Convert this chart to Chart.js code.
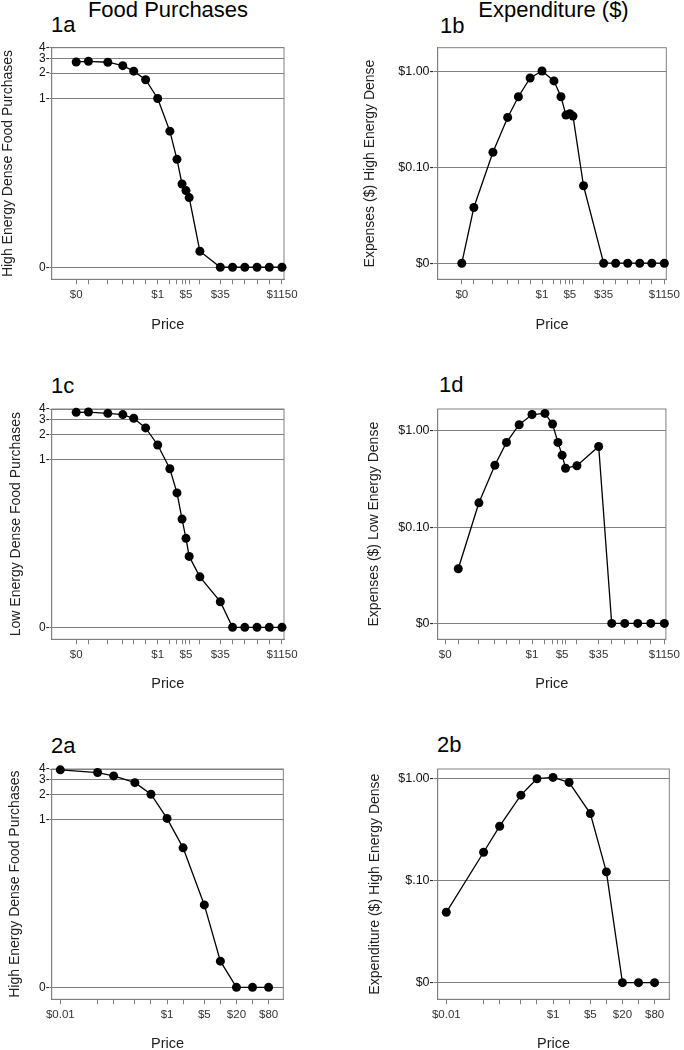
<!DOCTYPE html>
<html>
<head>
<meta charset="utf-8">
<script src="https://cdn.jsdelivr.net/npm/chart.js@4.4.1/dist/chart.umd.min.js"></script>
<style>
  html, body { margin: 0; padding: 0; background: #fff; overflow: hidden; }
  body { width: 684px; height: 1050px; position: relative; font-family: "Liberation Sans", Arial, sans-serif; }
  canvas { position: absolute; }
  .lbl { position: absolute; font-size: 22px; line-height: 22px; color: #000; white-space: nowrap; }
</style>
</head>
<body>
<div class="lbl" style="left:0;width:336px;text-align:center;top:-1px">Food Purchases</div>
<div class="lbl" style="left:342px;width:423px;text-align:center;top:-1px">Expenditure ($)</div>
<div class="lbl" style="left:51px;top:14px">1a</div>
<div class="lbl" style="left:440px;top:15px">1b</div>
<div class="lbl" style="left:51px;top:375px">1c</div>
<div class="lbl" style="left:439px;top:374px">1d</div>
<div class="lbl" style="left:51px;top:735px">2a</div>
<div class="lbl" style="left:437px;top:734px">2b</div>
<script>
// Study 1 prices and x tick labels
const prices1 = [0, 0.01, 0.05, 0.13, 0.25, 0.5, 1, 2, 3, 4, 5, 6, 11, 35, 70, 140, 280, 560, 1150];
const priceLabels1 = ['$0', '', '', '', '', '', '$1', '', '', '', '$5', '', '', '$35', '', '', '', '', '$1150'];

// 1a / 1b: high energy dense
const highPurchases1 = [2.71, 2.76, 2.69, 2.45, 2.11, 1.67, 1.0, 0.41, 0.19, 0.097, 0.081, 0.067, 0.0155, 0, 0, 0, 0, 0, 0];
const highExpenses1 = [0, 0.038, 0.143, 0.329, 0.54, 0.846, 1.0, 0.79, 0.54, 0.348, 0.36, 0.34, 0.064, 0, 0, 0, 0, 0, 0];

// 1c / 1d: low energy dense
const lowPurchases1 = [3.65, 3.68, 3.55, 3.43, 3.1, 2.38, 1.49, 0.775, 0.40, 0.195, 0.115, 0.070, 0.040, 0.0202, 0, 0, 0, 0, 0];
const lowExpenses1 = [null, 0.037, 0.179, 0.44, 0.76, 1.16, 1.48, 1.52, 1.18, 0.76, 0.56, 0.41, 0.435, 0.69, 0, 0, 0, 0, 0];

// Study 2
const prices2 = [0.01, 0.05, 0.1, 0.25, 0.5, 1, 2, 5, 10, 20, 40, 80];
const priceLabels2 = ['$0.01', '', '', '', '', '$1', '', '$5', '', '$20', '', '$80'];
const highPurchases2 = [3.91, 3.63, 3.31, 2.75, 2.0, 1.03, 0.46, 0.096, 0.0205, 0, 0, 0];
const highExpenditure2 = [0.049, 0.19, 0.342, 0.69, 1.0, 1.03, 0.92, 0.455, 0.122, 0, 0, 0];

// y ticks
const purchaseTicks = [0, 1, 2, 3, 4];
const purchaseTickLabels = ['0-', '1-', '2-', '3-', '4-'];
const expenseTicks = [0, 0.1, 1];
const expenseTickLabels1 = ['$0-', '$0.10-', '$1.00-'];
const expenseTickLabels2 = ['$0-', '$.10-', '$1.00-'];

// zero is drawn two decades under 1, as in the original log axes
const ZERO = 0.01;
const yPos = v => (v === 0 ? ZERO : v);

Chart.defaults.font.family = '"Liberation Sans", Arial, sans-serif';
Chart.defaults.color = '#222';

const boxPlugin = {
  id: 'box',
  beforeDatasetsDraw(chart) {
    const a = chart.chartArea, ctx = chart.ctx;
    ctx.save();
    ctx.strokeStyle = '#808080';
    ctx.lineWidth = 1;
    ctx.strokeRect(a.left, a.top, a.right - a.left, a.bottom - a.top);
    ctx.restore();
  }
};

function panel(cfg) {
  const c = document.createElement('canvas');
  c.width = 342;
  c.height = cfg.h;
  c.style.left = cfg.left + 'px';
  c.style.top = cfg.top + 'px';
  document.body.appendChild(c);

  const pts = cfg.prices.map((p, i) => ({
    x: p + cfg.xOff,
    y: cfg.values[i] === null ? null : yPos(cfg.values[i])
  }));

  new Chart(c, {
    type: 'line',
    data: {
      datasets: [{
        data: pts,
        borderColor: '#000',
        borderWidth: 1.3,
        pointRadius: 4.5,
        pointBackgroundColor: '#000',
        pointBorderColor: '#000',
        pointBorderWidth: 0,
        tension: 0,
        clip: false
      }]
    },
    options: {
      responsive: false,
      animation: false,
      events: [],
      layout: {
        padding: { left: 0, top: cfg.area[1] - cfg.top, right: cfg.left + 342 - cfg.area[2], bottom: 0 }
      },
      plugins: { legend: { display: false }, tooltip: { enabled: false } },
      scales: {
        x: {
          type: 'logarithmic',
          min: cfg.xMin,
          max: cfg.xMax,
          bounds: 'data',
          afterBuildTicks: s => { s.ticks = cfg.prices.map(p => ({ value: p + cfg.xOff })); },
          afterFit: s => { s.height = cfg.top + cfg.h - cfg.area[3]; },
          grid: { drawOnChartArea: false, drawTicks: true, tickLength: 5, color: '#808080' },
          border: { color: '#808080' },
          ticks: {
            autoSkip: false, maxRotation: 0, padding: 4,
            font: { size: 11.5 }, color: '#333',
            callback: (v, i) => cfg.xLabels[i]
          },
          title: {
            display: true, text: 'Price', color: '#222',
            font: { size: 14.5, lineHeight: 1 },
            padding: { top: 0, bottom: cfg.priceBottom }
          }
        },
        y: {
          type: 'logarithmic',
          min: cfg.yMin,
          max: cfg.yMax,
          bounds: 'data',
          afterBuildTicks: s => { s.ticks = cfg.yTicks.map(v => ({ value: yPos(v) })); },
          afterFit: s => { s.width = cfg.area[0] - cfg.left; },
          grid: { color: '#808080', tickLength: cfg.yTickLen },
          border: { color: '#808080' },
          ticks: {
            padding: 0, font: { size: cfg.yTickSize }, color: '#111',
            callback: (v, i) => cfg.yLabels[i]
          },
          title: {
            display: true, text: cfg.yTitle, color: '#222',
            font: { size: 14, lineHeight: 1 },
            padding: { top: cfg.yTitlePad, bottom: 0 }
          }
        }
      }
    },
    plugins: [boxPlugin]
  });
}

const study1X = { prices: prices1, xLabels: priceLabels1, xOff: 0.01 };
const study2X = { prices: prices2, xLabels: priceLabels2, xOff: 0, xMin: 0.0069, xMax: 151 };
const purchY = { yTicks: purchaseTicks, yLabels: purchaseTickLabels, yMin: 0.0072, yMax: 4, yTickLen: 2, yTickSize: 12 };
const expY = { yTicks: expenseTicks, yTickLen: 4, yTickSize: 12.5 };

panel(Object.assign({}, study1X, purchY, {
  left: 0, top: 38, h: 300, area: [51.7, 47.7, 284, 279.3], priceBottom: 5.5,
  xMin: 0.0025, xMax: 1290, values: highPurchases1,
  yTitle: 'High Energy Dense Food Purchases', yTitlePad: 1.3
}));
panel(Object.assign({}, study1X, expY, {
  left: 342, top: 38, h: 300, area: [437.7, 47.7, 669.3, 279.3], priceBottom: 5.5,
  xMin: 0.0025, xMax: 1290, values: highExpenses1,
  yLabels: expenseTickLabels1, yMin: 0.0068, yMax: 1.75,
  yTitle: 'Expenses ($) High Energy Dense', yTitlePad: 21
}));
panel(Object.assign({}, study1X, purchY, {
  left: 0, top: 399, h: 300, area: [51.7, 409, 284, 639.3], priceBottom: 7.5,
  xMin: 0.0025, xMax: 1290, values: lowPurchases1,
  yTitle: 'Low Energy Dense Food Purchases', yTitlePad: 8.8
}));
panel(Object.assign({}, study1X, expY, {
  left: 342, top: 399, h: 300, area: [437.7, 409, 669.3, 639.3], priceBottom: 7.5,
  xMin: 0.0067, xMax: 1250, values: lowExpenses1,
  yLabels: expenseTickLabels1, yMin: 0.00684, yMax: 1.69,
  yTitle: 'Expenses ($) Low Energy Dense', yTitlePad: 25.5
}));
panel(Object.assign({}, study2X, purchY, {
  left: 0, top: 759, h: 293, area: [51.7, 769, 283.3, 999.3], priceBottom: 0.5,
  values: highPurchases2,
  yTitle: 'High Energy Dense Food Purchases', yTitlePad: 7.8
}));
panel(Object.assign({}, study2X, expY, {
  left: 342, top: 759, h: 293, area: [437.7, 769, 669.3, 999.3], priceBottom: 0.5,
  values: highExpenditure2,
  yLabels: expenseTickLabels2, yMin: 0.00687, yMax: 1.245,
  yTitle: 'Expenditure ($) High Energy Dense', yTitlePad: 26
}));
</script>
</body>
</html>
